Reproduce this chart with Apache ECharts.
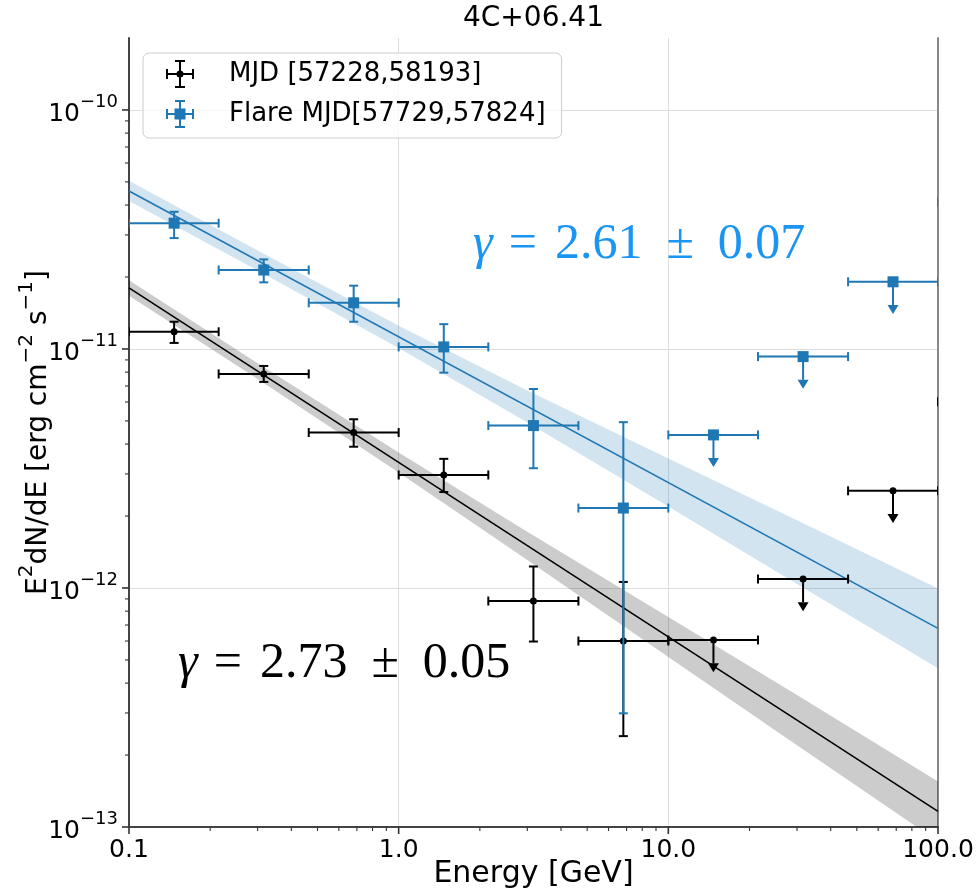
<!DOCTYPE html>
<html>
<head>
<meta charset="utf-8">
<title>4C+06.41 SED</title>
<script src="https://cdn.jsdelivr.net/npm/echarts@6/dist/echarts.min.js"></script>
<style>
  html, body { margin: 0; padding: 0; background: #ffffff; }
  #chart { width: 977px; height: 893px; }
</style>
</head>
<body>
<div id="chart"></div>
<script>
// ---- Energy binning (GeV) ----
const binEdgesLow  = [0.1, 0.215, 0.464, 1.0, 2.15, 4.64, 10.0, 21.5, 46.4, 100.0];
const binEdgesHigh = [0.215, 0.464, 1.0, 2.15, 4.64, 10.0, 21.5, 46.4, 100.0, 215.0];
const binCenters   = [0.147, 0.316, 0.681, 1.47, 3.16, 6.81, 14.7, 31.6, 68.1, 147.0];

// ---- Full period MJD [57228,58193] : E^2 dN/dE (erg cm^-2 s^-1) ----
const allFlux    = [1.18e-11, 7.86e-12, 4.47e-12, 2.97e-12, 8.82e-13, 6.00e-13, 6.06e-13, 1.09e-12, 2.55e-12, 6.02e-12];
const allFluxHi  = [1.30e-11, 8.49e-12, 5.08e-12, 3.47e-12, 1.23e-12, 1.06e-12, null, null, null, null];
const allFluxLo  = [1.06e-11, 7.28e-12, 3.90e-12, 2.52e-12, 5.97e-13, 2.40e-13, null, null, null, null];
const allIsUL    = [0, 0, 0, 0, 0, 0, 1, 1, 1, 1];

// ---- Flare MJD [57729,57824] ----
const flareFlux   = [3.36e-11, 2.14e-11, 1.56e-11, 1.02e-11, 4.78e-12, 2.16e-12, 4.37e-12, 9.29e-12, 1.91e-11, 4.13e-11];
const flareFluxHi = [3.75e-11, 2.37e-11, 1.84e-11, 1.27e-11, 6.80e-12, 4.94e-12, null, null, null, null];
const flareFluxLo = [2.91e-11, 1.90e-11, 1.30e-11, 7.96e-12, 3.17e-12, 2.99e-13, null, null, null, null];
const flareIsUL   = [0, 0, 0, 0, 0, 0, 1, 1, 1, 1];

// ---- Power-law fits: E^2 dN/dE = N0 * (E / 0.1 GeV)^(2 - gamma) ----
const fitPivot = 0.1;
const allGamma = 2.73, allGammaErr = 0.05, allNorm = 1.80e-11;
const flareGamma = 2.61, flareGammaErr = 0.07, flareNorm = 4.58e-11;

// ---- 1-sigma butterfly contours of the fits ----
const bandEnergy   = [0.1, 0.3, 1.0, 3.0, 10.0, 30.0, 100.0];
const allBandHi    = [1.94e-11, 8.71e-12, 3.69e-12, 1.72e-12, 7.57e-13, 3.57e-13, 1.55e-13];
const allBandLo    = [1.67e-11, 7.48e-12, 3.04e-12, 1.31e-12, 5.14e-13, 2.20e-13, 8.70e-14];
const flareBandHi  = [5.05e-11, 2.58e-11, 1.25e-11, 6.71e-12, 3.48e-12, 1.92e-12, 9.95e-13];
const flareBandLo  = [4.16e-11, 2.13e-11, 1.01e-11, 4.93e-12, 2.19e-12, 1.04e-12, 4.61e-13];

// ---- Axis ranges and ticks ----
const xMin = 0.1, xMax = 100;
const yMin = 1e-13, yMax = 2e-10;
const xMajorTicks = [0.1, 1, 10, 100];
const yMajorTicks = [1e-13, 1e-12, 1e-11, 1e-10];
const minorSteps = [2, 3, 4, 5, 6, 7, 8, 9];

const UL_FRACTION = 0.2;          // length of the upper-limit arrows, as a fraction of the flux
const BLUE = '#1f77b4';
const BLACK = '#000000';
const LABEL_BLUE = '#1a95f2';

const seriesNames = ['MJD [57228,58193]', 'Flare MJD[57729,57824]'];

function powerLaw(norm, gamma, e) {
  return norm * Math.pow(e / fitPivot, 2 - gamma);
}

function gammaLabel(gamma, err) {
  return '{g|\u03b3}{o|=}{n|' + gamma.toFixed(2) + '}{p|\u00b1}{n|' + err.toFixed(2) + '}';
}

function buildRows(flux, hi, lo, ul) {
  return binCenters.map((c, i) => [
    c, flux[i], binEdgesLow[i], binEdgesHigh[i],
    hi[i] == null ? flux[i] : hi[i],
    lo[i] == null ? flux[i] : lo[i],
    ul[i]
  ]);
}

function clipRect(params) {
  const cs = params.coordSys;
  return { type: 'rect', shape: { x: cs.x, y: cs.y, width: cs.width, height: cs.height } };
}

function errorBarRenderer(color, markerType) {
  return function (params, api) {
    const e = api.value(0), f = api.value(1);
    const c = api.coord([e, f]);
    const l = api.coord([api.value(2), f]);
    const r = api.coord([api.value(3), f]);
    const cap = 4.5;
    const st = { stroke: color, lineWidth: 2 };
    const kids = [
      { type: 'line', shape: { x1: l[0], y1: c[1], x2: r[0], y2: c[1] }, style: st },
      { type: 'line', shape: { x1: l[0], y1: c[1] - cap, x2: l[0], y2: c[1] + cap }, style: st },
      { type: 'line', shape: { x1: r[0], y1: c[1] - cap, x2: r[0], y2: c[1] + cap }, style: st }
    ];
    if (api.value(6) === 1) {
      const end = api.coord([e, f * (1 - UL_FRACTION)]);
      kids.push({ type: 'line', shape: { x1: c[0], y1: c[1], x2: c[0], y2: end[1] }, style: st });
      kids.push({
        type: 'polygon',
        shape: { points: [[c[0] - 5.5, end[1]], [c[0] + 5.5, end[1]], [c[0], end[1] + 9]] },
        style: { fill: color }
      });
    } else {
      const hi = api.coord([e, api.value(4)]);
      const lo = api.coord([e, api.value(5)]);
      kids.push({ type: 'line', shape: { x1: c[0], y1: hi[1], x2: c[0], y2: lo[1] }, style: st });
      kids.push({ type: 'line', shape: { x1: c[0] - cap, y1: hi[1], x2: c[0] + cap, y2: hi[1] }, style: st });
      kids.push({ type: 'line', shape: { x1: c[0] - cap, y1: lo[1], x2: c[0] + cap, y2: lo[1] }, style: st });
    }
    if (markerType === 'square') {
      kids.push({ type: 'rect', shape: { x: c[0] - 5.5, y: c[1] - 5.5, width: 11, height: 11 }, style: { fill: color } });
    } else {
      kids.push({ type: 'circle', shape: { cx: c[0], cy: c[1], r: 3.5 }, style: { fill: color } });
    }
    return { type: 'group', children: kids, clipPath: clipRect(params) };
  };
}

function bandRenderer(energy, hiVals, loVals, fill) {
  return function (params, api) {
    const upper = energy.map((e, i) => api.coord([e, hiVals[i]]));
    const lower = energy.map((e, i) => api.coord([e, loVals[i]])).reverse();
    return {
      type: 'polygon',
      shape: { points: upper.concat(lower) },
      style: { fill: fill },
      clipPath: clipRect(params)
    };
  };
}

// tick marks on the log axes (major and minor), drawn outward from the spines
function tickRenderer(params, api) {
  const kids = [];
  const addX = (v, len) => {
    const p = api.coord([v, yMin]);
    kids.push({ type: 'line', shape: { x1: p[0], y1: p[1], x2: p[0], y2: p[1] + len }, style: { stroke: '#333', lineWidth: len > 5 ? 1.6 : 1.1 } });
  };
  const addY = (v, len) => {
    const p = api.coord([xMin, v]);
    kids.push({ type: 'line', shape: { x1: p[0], y1: p[1], x2: p[0] - len, y2: p[1] }, style: { stroke: '#333', lineWidth: len > 5 ? 1.6 : 1.1 } });
  };
  xMajorTicks.forEach(v => addX(v, 7));
  yMajorTicks.forEach(v => addY(v, 7));
  xMajorTicks.slice(0, -1).forEach(d => minorSteps.forEach(m => addX(d * m, 4)));
  yMajorTicks.forEach(d => minorSteps.forEach(m => { if (d * m < yMax) addY(d * m, 4); }));
  return { type: 'group', children: kids };
}

function gammaRich(color) {
  const base = { fontFamily: serifFont, fontSize: 50, fill: color };
  return {
    g: Object.assign({}, base, { fontStyle: 'italic', padding: [0, 16, 0, 0] }),
    o: Object.assign({}, base, { padding: [0, 18, 0, 0] }),
    n: base,
    p: Object.assign({}, base, { padding: [0, 24, 0, 24] })
  };
}

const blackIcon = 'path://M0,13H28V15H0Z M13,0H15V28H13Z M0,9H2V19H0Z M26,9H28V19H26Z M9,0H19V2H9Z M9,26H19V28H9Z M17.5,14A3.5,3.5 0 1 1 10.5,14A3.5,3.5 0 1 1 17.5,14Z';
const blueIcon  = 'path://M0,13H28V15H0Z M13,0H15V28H13Z M0,9H2V19H0Z M26,9H28V19H26Z M9,0H19V2H9Z M9,26H19V28H9Z M8.5,8.5H19.5V19.5H8.5Z';

const sansFont = 'DejaVu Sans';
const serifFont = 'Liberation Serif';

const option = {
  backgroundColor: '#ffffff',
  animation: false,
  title: {
    text: '4C+06.41',
    left: 533.5,
    textAlign: 'center',
    top: 5,
    padding: 0,
    textStyle: { fontFamily: sansFont, fontSize: 28, fontWeight: 'normal', color: '#000' }
  },
  legend: {
    orient: 'vertical',
    left: 143,
    top: 53,
    padding: [7, 16, 10, 23],
    itemGap: 12,
    itemWidth: 28,
    itemHeight: 28,
    selectedMode: false,
    backgroundColor: 'rgba(255,255,255,0.8)',
    borderColor: '#cccccc',
    borderWidth: 1,
    borderRadius: 6,
    textStyle: { fontFamily: sansFont, fontSize: 26, color: '#000', lineHeight: 28, padding: [0, 0, 0, 30] },
    data: [
      { name: seriesNames[0], icon: blackIcon, itemStyle: { color: BLACK } },
      { name: seriesNames[1], icon: blueIcon, itemStyle: { color: BLUE } }
    ]
  },
  grid: { left: 129, right: 39, top: 38, bottom: 66, outerBoundsMode: 'none', containLabel: false },
  xAxis: {
    type: 'log',
    logBase: 10,
    min: xMin,
    max: xMax,
    name: 'Energy [GeV]',
    nameLocation: 'middle',
    nameGap: 32,
    nameMoveOverlap: false,
    nameTextStyle: { fontFamily: sansFont, fontSize: 30, lineHeight: 30, color: '#000' },
    axisLine: { show: true, onZero: false, lineStyle: { color: '#444', width: 2 } },
    axisTick: { show: false },
    axisLabel: {
      margin: 11,
      fontFamily: sansFont,
      fontSize: 25,
      color: '#000',
      formatter: v => v.toFixed(1)
    },
    splitLine: { show: true, lineStyle: { color: '#dddddd', width: 1 } }
  },
  yAxis: [{
    type: 'log',
    logBase: 10,
    min: yMin,
    max: yMax,
    name: '{b|E}{s|2}{b|dN/dE [erg cm}{s|\u22122}{b| s}{s|\u22121}{b|]}',
    nameLocation: 'middle',
    nameRotate: 90,
    nameGap: 76,
    nameMoveOverlap: false,
    nameTextStyle: {
      fontFamily: sansFont,
      color: '#000',
      rich: {
        b: { fontFamily: sansFont, fontSize: 28, lineHeight: 36, verticalAlign: 'bottom', color: '#000' },
        s: { fontFamily: sansFont, fontSize: 20, lineHeight: 22, verticalAlign: 'top', color: '#000' }
      }
    },
    axisLine: { show: true, onZero: false, lineStyle: { color: '#444', width: 2 } },
    axisTick: { show: false },
    axisLabel: {
      margin: 11,
      showMaxLabel: false,
      formatter: function (v) {
        const e = Math.log10(v);
        if (Math.abs(e - Math.round(e)) > 1e-6) return '';
        const n = Math.round(e);
        return '{b|10}{s|' + (n < 0 ? '\u2212' : '') + Math.abs(n) + '}';
      },
      rich: {
        b: { fontFamily: sansFont, fontSize: 25, lineHeight: 34, verticalAlign: 'bottom', color: '#000' },
        s: { fontFamily: sansFont, fontSize: 18, lineHeight: 20, verticalAlign: 'top', color: '#000' }
      }
    },
    splitLine: { show: true, showMaxLine: false, lineStyle: { color: '#dddddd', width: 1 } }
  }, {
    type: 'log',
    logBase: 10,
    min: yMin,
    max: yMax,
    position: 'right',
    axisLine: { show: true, onZero: false, lineStyle: { color: '#888', width: 2 } },
    axisTick: { show: false },
    axisLabel: { show: false },
    splitLine: { show: false }
  }],
  graphic: [
    {
      type: 'text',
      x: 473,
      y: 245,
      z: 50,
      style: {
        text: gammaLabel(flareGamma, flareGammaErr),
        verticalAlign: 'middle',
        fill: LABEL_BLUE,
        font: '50px "Liberation Serif"',
        rich: gammaRich(LABEL_BLUE)
      }
    },
    {
      type: 'text',
      x: 178,
      y: 664,
      z: 50,
      style: {
        text: gammaLabel(allGamma, allGammaErr),
        verticalAlign: 'middle',
        fill: BLACK,
        font: '50px "Liberation Serif"',
        rich: gammaRich(BLACK)
      }
    }
  ],
  series: [
    {
      name: 'all-band',
      type: 'custom',
      coordinateSystem: 'cartesian2d',
      renderItem: bandRenderer(bandEnergy, allBandHi, allBandLo, 'rgba(0,0,0,0.2)'),
      data: [[bandEnergy[0], allBandHi[0]]],
      silent: true,
      z: 1
    },
    {
      name: 'flare-band',
      type: 'custom',
      coordinateSystem: 'cartesian2d',
      renderItem: bandRenderer(bandEnergy, flareBandHi, flareBandLo, 'rgba(31,119,180,0.2)'),
      data: [[bandEnergy[0], flareBandHi[0]]],
      silent: true,
      z: 1
    },
    {
      name: 'all-fit',
      type: 'line',
      data: [[xMin, powerLaw(allNorm, allGamma, xMin)], [xMax, powerLaw(allNorm, allGamma, xMax)]],
      showSymbol: false,
      lineStyle: { color: BLACK, width: 1.6 },
      silent: true,
      z: 2
    },
    {
      name: 'flare-fit',
      type: 'line',
      data: [[xMin, powerLaw(flareNorm, flareGamma, xMin)], [xMax, powerLaw(flareNorm, flareGamma, xMax)]],
      showSymbol: false,
      lineStyle: { color: BLUE, width: 1.6 },
      silent: true,
      z: 2
    },
    {
      name: seriesNames[0],
      type: 'custom',
      coordinateSystem: 'cartesian2d',
      renderItem: errorBarRenderer(BLACK, 'circle'),
      encode: { x: 0, y: 1 },
      itemStyle: { color: BLACK },
      data: buildRows(allFlux, allFluxHi, allFluxLo, allIsUL),
      z: 3
    },
    {
      name: seriesNames[1],
      type: 'custom',
      coordinateSystem: 'cartesian2d',
      renderItem: errorBarRenderer(BLUE, 'square'),
      encode: { x: 0, y: 1 },
      itemStyle: { color: BLUE },
      data: buildRows(flareFlux, flareFluxHi, flareFluxLo, flareIsUL),
      z: 4
    },
    {
      name: 'ticks',
      type: 'custom',
      coordinateSystem: 'cartesian2d',
      renderItem: tickRenderer,
      data: [[xMin, yMin]],
      silent: true,
      clip: false,
      z: 6
    }
  ]
};

const chart = echarts.init(document.getElementById('chart'));
chart.setOption(option);
</script>
</body>
</html>
